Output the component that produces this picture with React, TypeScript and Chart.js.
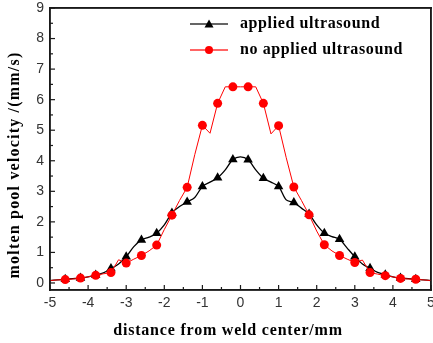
import React, { useEffect, useRef } from "react";
import { Chart, registerables } from "chart.js";

Chart.register(...registerables);

const xPositions = [
  -5, -4.8, -4.6, -4.4, -4.2, -4.0, -3.8, -3.6, -3.4, -3.2, -3.0, -2.8, -2.6, -2.4, -2.2, -2.0, -1.8,
  -1.6, -1.4, -1.2, -1.0, -0.8, -0.6, -0.4, -0.2, 0, 0.2, 0.4, 0.6, 0.8, 1.0, 1.2, 1.4, 1.6, 1.8,
  2.0, 2.2, 2.4, 2.6, 2.8, 3.0, 3.2, 3.4, 3.6, 3.8, 4.0, 4.2, 4.4, 4.6, 4.8, 5.0,
];

const appliedUltrasound = [
  0.08, 0.1, 0.12, 0.14, 0.16, 0.2, 0.26, 0.33, 0.47, 0.62, 0.86, 1.19, 1.41, 1.5, 1.63, 1.9, 2.29,
  2.5, 2.65, 2.8, 3.16, 3.3, 3.44, 3.7, 4.04, 4.13, 4.03, 3.7, 3.43, 3.3, 3.16, 2.72, 2.63, 2.45, 2.26,
  1.9, 1.63, 1.52, 1.43, 1.14, 0.86, 0.62, 0.48, 0.35, 0.27, 0.2, 0.16, 0.14, 0.12, 0.1, 0.08,
];

const noAppliedUltrasound = [
  0.08, 0.1, 0.11, 0.13, 0.16, 0.2, 0.25, 0.3, 0.34, 0.76, 0.65, 0.78, 0.9, 1.05, 1.24, 1.75, 2.22,
  2.7, 3.13, 4.2, 5.16, 4.9, 5.88, 6.42, 6.42, 6.42, 6.42, 6.42, 5.88, 4.88, 5.15, 4.1, 3.14, 2.7, 2.23,
  1.7, 1.25, 1.05, 0.9, 0.78, 0.67, 0.75, 0.34, 0.29, 0.24, 0.2, 0.15, 0.13, 0.12, 0.1, 0.08,
];

const markerPositions = [
  -4.6, -4.2, -3.8, -3.4, -3.0, -2.6, -2.2, -1.8, -1.4, -1.0, -0.6, -0.2, 0.2, 0.6, 1.0, 1.4, 1.8,
  2.2, 2.6, 3.0, 3.4, 3.8, 4.2, 4.6,
];

const xTickValues = [-5, -4, -3, -2, -1, 0, 1, 2, 3, 4, 5];
const yTickValues = [0, 1, 2, 3, 4, 5, 6, 7, 8, 9];

const seriesNames = ["applied ultrasound", "no applied ultrasound"];
const xTitle = "distance from weld center/mm";
const yTitle = "molten pool velocity /(mm/s)";

const isMarker = (x: number) => markerPositions.some((m) => Math.abs(m - x) < 1e-6);

const frameColor = "#1a1a1a";

const decorPlugin = {
  id: "decor",
  afterDraw(chart: any) {
    const ctx = chart.ctx;
    const { left, right, top, bottom } = chart.chartArea;
    const xs = chart.scales.x;
    const ys = chart.scales.y;
    ctx.save();
    ctx.fillStyle = frameColor;
    ctx.fillRect(left - 0.75, top - 0.75, right - left + 1.5, 1.5);
    ctx.fillRect(left - 0.75, bottom - 0.75, right - left + 1.5, 1.5);
    ctx.fillRect(left - 0.75, top - 0.75, 1.5, bottom - top + 1.5);
    ctx.fillRect(right - 0.75, top - 0.75, 1.5, bottom - top + 1.5);
    // ticks inside
    for (let v = -5; v <= 5.001; v += 0.5) {
      const px = xs.getPixelForValue(v);
      const len = Math.abs(v - Math.round(v)) < 1e-6 ? 5 : 3;
      ctx.fillRect(px - 0.6, bottom - len, 1.2, len);
    }
    for (let v = 0; v <= 9.001; v += 0.5) {
      const py = ys.getPixelForValue(v);
      const len = Math.abs(v - Math.round(v)) < 1e-6 ? 5 : 3;
      ctx.fillRect(left, py - 0.6, len, 1.2);
    }

    // titles
    ctx.fillStyle = "#000";
    ctx.font = "bold 16px 'Liberation Serif', serif";
    ctx.textAlign = "center";
    ctx.textBaseline = "middle";
    (ctx as any).letterSpacing = "0.8px";
    ctx.fillText(xTitle, 228, 331);
    ctx.save();
    (ctx as any).letterSpacing = "1.2px";
    ctx.translate(15, 165);
    ctx.rotate(-Math.PI / 2);
    ctx.fillText(yTitle, 0, 0);
    ctx.restore();

    // legend
    const items = [
      { y: 24, color: "#000", style: "triangle" },
      { y: 50, color: "#ff0000", style: "circle" },
    ];
    items.forEach((it, i) => {
      ctx.fillStyle = it.color;
      ctx.fillRect(190, it.y - 0.6, 38, 1.2);
      ctx.beginPath();
      if (it.style === "triangle") {
        ctx.moveTo(209, it.y - 4.5);
        ctx.lineTo(213.5, it.y + 3.5);
        ctx.lineTo(204.5, it.y + 3.5);
        ctx.closePath();
      } else {
        ctx.arc(209, it.y, 4, 0, Math.PI * 2);
      }
      ctx.fill();
      ctx.fillStyle = "#000";
      ctx.textAlign = "left";
      ctx.font = "bold 16px 'Liberation Serif', serif";
      (ctx as any).letterSpacing = "0.6px";
      ctx.fillText(seriesNames[i], 240, it.y);
    });
    (ctx as any).letterSpacing = "0px";
    ctx.restore();
  },
};

const noPadX = (axis: any, h: number) => {
  axis.height = h;
  axis.paddingLeft = 0;
  axis.paddingRight = 0;
};
const noPadY = (axis: any, w: number) => {
  axis.width = w;
  axis.paddingTop = 0;
  axis.paddingBottom = 0;
};

export default function App() {
  const canvasRef = useRef<HTMLCanvasElement | null>(null);

  useEffect(() => {
    if (!canvasRef.current) return;
    const tickFont = { family: "'Liberation Sans', Arial, sans-serif", size: 14 };
    const chart = new Chart(canvasRef.current, {
      type: "line",
      data: {
        datasets: [
          {
            label: seriesNames[0],
            data: xPositions.map((x, i) => ({ x, y: appliedUltrasound[i] })),
            borderColor: "#000",
            backgroundColor: "#000",
            borderWidth: 1.3,
            tension: 0.3,
            pointStyle: "triangle",
            pointRadius: (c: any) => (isMarker(xPositions[c.dataIndex]) ? 5.5 : 0),
            pointBorderWidth: 0,
            order: 1,
          },
          {
            label: seriesNames[1],
            data: xPositions.map((x, i) => ({ x, y: noAppliedUltrasound[i] })),
            borderColor: "#ff0000",
            backgroundColor: "#ff0000",
            borderWidth: 1,
            tension: 0,
            pointStyle: "circle",
            pointRadius: (c: any) => (isMarker(xPositions[c.dataIndex]) ? 4.5 : 0),
            pointBorderWidth: 0,
            order: 0,
          },
        ],
      },
      options: {
        animation: false,
        responsive: true,
        maintainAspectRatio: false,
        layout: { padding: { top: 8, right: 2, left: 0, bottom: 0 } },
        plugins: { legend: { display: false }, tooltip: { enabled: false } },
        scales: {
          x: {
            type: "linear",
            min: -5,
            max: 5,
            afterBuildTicks: (axis: any) => {
              axis.ticks = xTickValues.map((v) => ({ value: v }));
            },
            afterFit: (axis: any) => noPadX(axis, 53),
            grid: { display: false, drawTicks: false },
            border: { display: true, color: frameColor, width: 1.5 },
            ticks: { autoSkip: false, maxRotation: 0, padding: 5, color: "#333", font: tickFont },
          },
          x2: {
            type: "linear",
            position: "top",
            min: -5,
            max: 5,
            afterFit: (axis: any) => noPadX(axis, 0),
            grid: { display: false, drawTicks: false },
            border: { display: true, color: frameColor, width: 1.5 },
            ticks: { display: false },
          },
          y: {
            type: "linear",
            min: -0.23,
            max: 9,
            afterBuildTicks: (axis: any) => {
              axis.ticks = yTickValues.map((v) => ({ value: v }));
            },
            afterFit: (axis: any) => noPadY(axis, 50),
            grid: { display: false, drawTicks: false },
            border: { display: true, color: frameColor, width: 1.5 },
            ticks: { autoSkip: false, padding: 6, color: "#333", font: tickFont },
          },
          y2: {
            type: "linear",
            position: "right",
            min: -0.23,
            max: 9,
            afterFit: (axis: any) => noPadY(axis, 0),
            grid: { display: false, drawTicks: false },
            border: { display: true, color: frameColor, width: 1.5 },
            ticks: { display: false },
          },
        },
      },
      plugins: [decorPlugin],
    } as any);
    return () => chart.destroy();
  }, []);

  return (
    <div style={{ position: "absolute", left: 0, top: 0, width: 433, height: 343, background: "#fff" }}>
      <canvas ref={canvasRef} />
    </div>
  );
}
